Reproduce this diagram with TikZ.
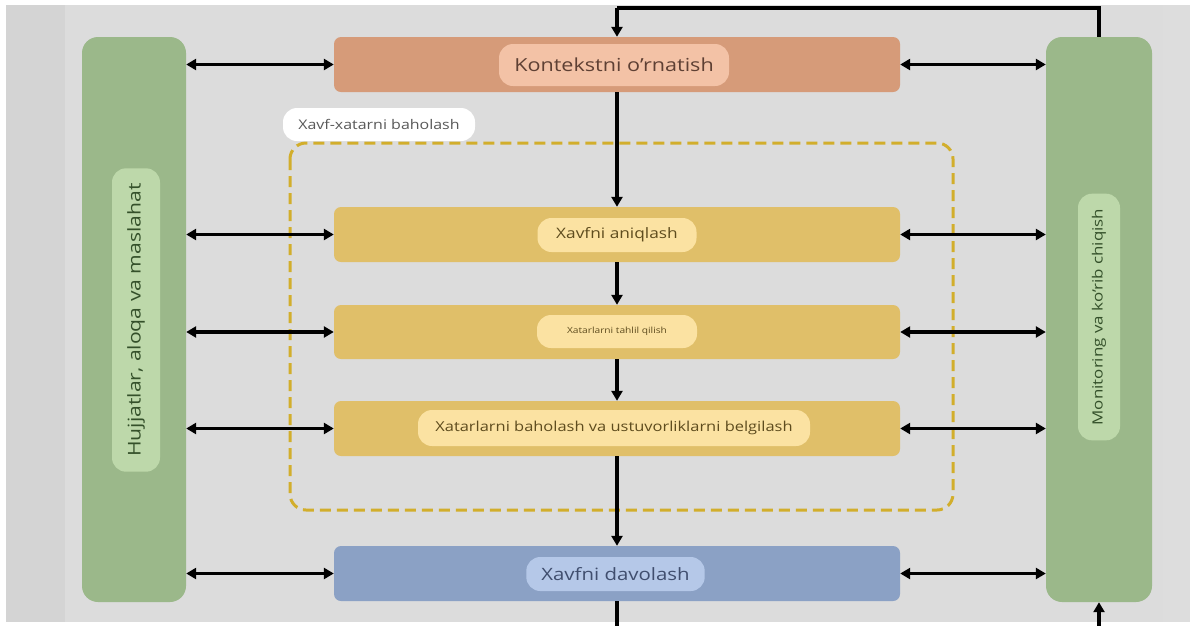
\documentclass[tikz,border=0pt]{standalone}
\usepackage{fontspec}
\setmainfont{Open Sans}[FakeStretch=1.2]
\usetikzlibrary{arrows.meta}
\definecolor{bgmain}{HTML}{DCDCDC}
\definecolor{bgside}{HTML}{D4D4D4}
\definecolor{grn}{HTML}{9BB88A}
\definecolor{grnpill}{HTML}{BDD8AA}
\definecolor{grntxt}{HTML}{34502A}
\definecolor{sal}{HTML}{D69B79}
\definecolor{salpill}{HTML}{F3C2A6}
\definecolor{saltxt}{HTML}{5E4034}
\definecolor{yel}{HTML}{E0BF69}
\definecolor{yelpill}{HTML}{FBE2A2}
\definecolor{yeltxt}{HTML}{5E4C1E}
\definecolor{blu}{HTML}{8BA1C5}
\definecolor{blupill}{HTML}{B5C8E8}
\definecolor{blutxt}{HTML}{404E6E}
\definecolor{dashy}{HTML}{D2AE2C}
\tikzset{
  box/.style={rounded corners=7pt, minimum width=566pt, minimum height=55pt, inner sep=0pt},
  side/.style={rounded corners=16pt, fill=grn, minimum height=565pt, inner sep=0pt},
  pill/.style={rounded corners=14pt, inner xsep=15pt, inner ysep=0pt},
  flow/.style={line width=3.2pt, -{Triangle[length=10pt,width=11pt]}},
  dbl/.style={line width=3.2pt, {Triangle[length=10pt,width=11pt]}-{Triangle[length=10pt,width=11pt]}},
  loopl/.style={line width=3.2pt}
}
\begin{document}
\begin{tikzpicture}[x=1pt,y=-1pt]
\useasboundingbox (0,0) rectangle (1190,625);
\begin{scope}
\clip (0,0) rectangle (1190,625);
\fill[white] (0,0) rectangle (1190,625);
\fill[bgside] (6,5) rectangle (65,622);
\fill[bgmain] (65,5) rectangle (1163,622);
\fill[bgside!80!white] (1163,5) rectangle (1190,622);

% side columns
\node[side, minimum width=104pt] (L) at (134,319.5) {};
\node[side, minimum width=106pt] (R) at (1099,319.5) {};
\node[pill, fill=grnpill, rotate=90, minimum width=300pt, minimum height=48pt, text=grntxt, font=\fontsize{17.6}{20}\selectfont] (Lt) at (136,320) {Hujjatlar, aloqa va maslahat};
\node[pill, fill=grnpill, rotate=90, minimum width=240pt, minimum height=42pt, text=grntxt, font=\fontsize{14.1}{16}\selectfont] (Rt) at (1099,317) {Monitoring va ko'rib chiqish};

% dashed frame
\draw[dashy, line width=3pt, dash pattern=on 11pt off 6pt, rounded corners=16pt] (290,143) rectangle (953,510);
\node[fill=white, rounded corners=14pt, minimum width=192pt, minimum height=33pt, inner sep=0pt, text=black!65, font=\fontsize{13.3}{15}\selectfont] (lab) at (379,124.5) {Xavf-xatarni baholash};

% main boxes
\node[box, fill=sal] (K) at (617,64.5) {};
\node[pill, fill=salpill, minimum height=42pt, minimum width=230pt, text=saltxt, font=\fontsize{18}{20}\selectfont] (Kt) at (614,65) {Kontekstni o'rnatish};
\node[box, fill=yel] (A) at (617,234.5) {};
\node[pill, fill=yelpill, minimum height=34pt, minimum width=159pt, text=yeltxt, font=\fontsize{14.4}{16}\selectfont] (At) at (617,235) {Xavfni aniqlash};
\node[box, fill=yel, minimum height=54pt] (T) at (617,332) {};
\node[pill, fill=yelpill, minimum height=33pt, minimum width=160pt, text=yeltxt, font=\fontsize{8.5}{10}\selectfont] (Tt) at (617,331.5) {Xatarlarni tahlil qilish};
\node[box, fill=yel] (B) at (617,428.5) {};
\node[pill, fill=yelpill, minimum height=36pt, minimum width=392pt, text=yeltxt, font=\fontsize{13.7}{15}\selectfont] (Bt) at (614,428) {Xatarlarni baholash va ustuvorliklarni belgilash};
\node[box, fill=blu] (D) at (617,573.5) {};
\node[pill, fill=blupill, minimum height=34pt, minimum width=169pt, text=blutxt, font=\fontsize{17}{19}\selectfont] (Dt) at (615.5,574) {Xavfni davolash};

% vertical flow
\draw[flow] (K.south) -- (A.north);
\draw[flow] (A.south) -- (T.north);
\draw[flow] (T.south) -- (B.north);
\draw[flow] (B.south) -- (D.north);

% feedback loop
\coordinate (topR) at (R.north |- 0,8);
\coordinate (topK) at (K.north |- 0,8);
\draw[loopl] (R.north) -- (topR) -- (topK);
\draw[flow] (topK) -- (K.north);
\coordinate (botD) at (D.south |- 0,628);
\coordinate (botR) at (R.south |- 0,628);
\draw[loopl] (D.south) -- (botD) -- (botR);
\draw[flow] (botR) -- (R.south);

% horizontal double arrows
\foreach \n in {K,A,T,B,D} {
  \draw[dbl] (L.east |- \n.west) -- (\n.west);
  \draw[dbl] (\n.east) -- (R.west |- \n.east);
}
\end{scope}
\end{tikzpicture}
\end{document}
